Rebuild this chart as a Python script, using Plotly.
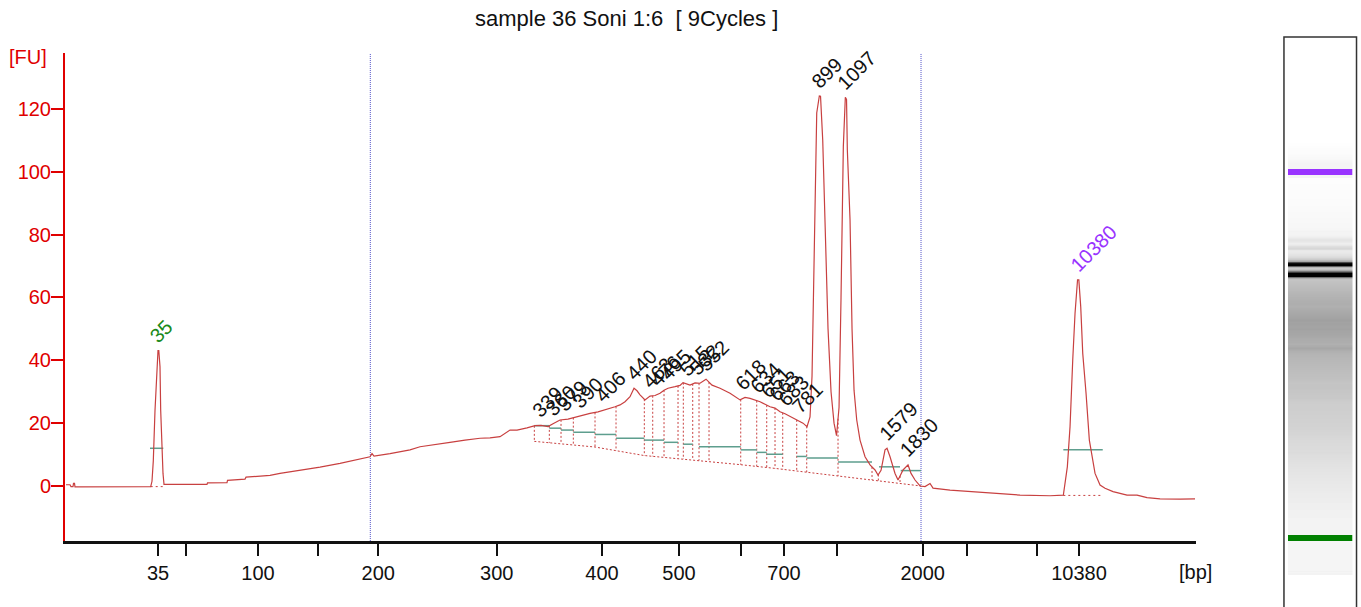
import numpy as np
import plotly.graph_objects as go

FONT = "Liberation Sans"
RED = "#e00000"
CURVE = "#c84040"
TEAL = "#5e9e8e"
PURPLE = "#9933ff"
GREEN = "#1a8a1a"

title_text = "sample 36 Soni 1:6\u00a0\u00a0[ 9Cycles ]"

# electropherogram: migration time [s] vs fluorescence [FU]
time_s = [3.3, 3.5, 3.55, 3.65, 3.675, 3.725, 3.75, 7.5,
          7.535, 7.6, 7.665, 7.75, 7.835, 7.9, 7.94, 8.0, 8.035, 8.085, 8.15, 8.2, 8.25,
          10.35, 10.375, 11.35, 11.375, 12.25, 12.3, 12.9, 13.5, 14.0, 15.0, 16.0, 17.0,
          17.75, 18.5, 18.6, 18.7, 19.5, 20.0, 20.5, 21.0, 21.5, 22.0, 22.5, 23.25, 24.0,
          24.5, 25.0, 25.5, 25.85, 26.35, 26.75, 27.05, 27.4, 27.65, 28.0, 28.4, 28.75,
          29.15, 29.5, 29.9, 30.25, 30.75, 31.0, 31.25, 31.5, 31.7, 31.85, 32.0, 32.25,
          32.5, 32.75, 33.0, 33.2, 33.4, 33.75, 34.0, 34.15, 34.5, 34.75, 35.0, 35.3,
          35.6, 36.0, 36.5, 37.0, 37.25, 37.5, 38.0, 38.25, 38.5, 38.75, 39.0, 39.25,
          39.5, 39.85, 40.15, 40.35, 40.5, 40.6, 40.7, 40.75, 40.835, 40.965, 41.025,
          41.135, 41.25, 41.4, 41.55, 41.7, 41.825, 41.95, 42.05, 42.1, 42.165, 42.265,
          42.325, 42.365, 42.5, 42.6, 42.7, 42.835, 43.0, 43.25, 43.5, 43.75, 43.9,
          44.05, 44.25, 44.35, 44.5, 44.75, 44.9, 45.15, 45.4, 45.55, 45.75, 46.0,
          46.25, 46.5, 46.65, 47.5, 48.5, 49.5, 51.0, 52.5, 53.1, 53.165, 53.365, 53.5,
          53.635, 53.75, 53.875, 53.94, 54.035, 54.135, 54.3, 54.465, 54.75, 55.0,
          55.25, 55.65, 56.35, 56.85, 57.35, 58.0, 59.0, 59.75]
fu = [0.4, 0.4, -0.2, -0.2, 0.8, 0.8, -0.3, -0.3,
      -0.2, 1.5, 8.0, 24.0, 38.0, 43.1, 43.1, 38.0, 24.0, 12.0, 4.0, 0.5, 0.5,
      0.5, 1.0, 1.1, 1.8, 2.2, 2.8, 3.0, 3.4, 4.0, 4.9, 6.0, 7.2,
      8.2, 9.3, 10.3, 9.5, 10.3, 10.8, 11.5, 12.5, 13.0, 13.6, 13.9, 14.6, 15.2,
      15.3, 15.7, 17.8, 17.8, 18.5, 19.2, 19.3, 18.9, 19.8, 21.0, 21.3, 21.9,
      22.4, 23.1, 23.6, 24.2, 25.2, 25.8, 26.8, 28.4, 31.1, 30.3, 29.0, 27.4,
      28.6, 28.8, 29.5, 30.5, 31.1, 31.6, 32.0, 32.9, 32.1, 32.8, 32.7, 34.0,
      32.1, 31.1, 29.5, 27.4, 28.2, 27.9, 26.8, 26.0, 25.2, 24.8, 23.6, 23.0,
      22.1, 21.0, 20.0, 18.9, 22.0, 35.0, 70.0, 85.0, 118.7, 124.1, 124.0,
      110.0, 84.7, 50.0, 30.0, 20.0, 16.0, 25.0, 60.0, 84.7, 108.0, 123.7,
      123.0, 107.0, 84.7, 50.0, 30.5, 21.0, 14.6, 9.3, 6.7, 5.1, 3.5,
      5.0, 11.5, 12.0, 9.3, 4.0, 1.9, 5.1, 6.7, 4.0, 1.9, 0.0,
      -0.2, 0.8, -0.7, -1.3, -1.8, -2.3, -2.9, -3.1, -3.1, -2.9, 6.1, 18.9,
      40.1, 55.0, 65.6, 65.6, 57.0, 42.2, 29.5, 14.6, 4.0, 0.3,
      -0.7, -1.8, -2.9, -2.9, -3.7, -4.1, -4.2, -4.1]

# ladder (bp) and its migration times -> x axis ticks
ladder_bp = [35, 50, 100, 150, 200, 300, 400, 500, 600, 700, 1000, 2000, 3000, 7000, 10380]
ladder_time = [7.9, 9.3, 12.9, 15.9, 18.915, 24.835, 30.1, 33.95, 37.05, 39.2,
               41.85, 46.135, 48.35, 51.85, 53.95]
ladder_label = ["35", "", "100", "", "200", "300", "400", "500", "", "700", "", "2000", "", "", "10380"]

fu_ticks = [0, 20, 40, 60, 80, 100, 120]

# region limits (blue dotted lines)
region_limits = [18.515, 46.05]

# smear sub-region boundaries
bound_time = [26.715, 27.465, 28.05, 28.665, 29.75, 30.8, 32.215, 32.635, 33.2, 33.9,
              34.165, 34.635, 34.95, 35.45, 37.035, 37.835, 38.335, 38.75, 39.135,
              39.835, 40.335, 41.9, 43.6, 43.915, 45.0, 46.05]
# smear baseline
base_time = [26.715, 29.75, 32.2, 35.0, 37.0, 38.75, 40.35, 41.9, 43.65, 45.0, 46.05]
base_fu = [14.2, 12.4, 9.7, 8.1, 6.8, 5.6, 4.4, 3.2, 1.9, 0.9, 0.0]

# peak width lines (start time, end time, FU)
width_t0 = [26.715, 27.465, 28.05, 28.665, 29.75, 30.8, 32.215, 32.635, 33.2, 34.165,
            34.95, 37.035, 37.835, 38.335, 39.835, 40.335, 41.9, 43.95, 45.035, 7.5, 53.165]
width_t1 = [27.465, 28.05, 28.665, 29.75, 30.8, 32.215, 32.635, 33.2, 33.9, 34.635,
            37.035, 37.835, 38.335, 39.135, 40.335, 41.9, 43.6, 45.0, 46.05, 8.165, 55.135]
width_fu = [19.2, 18.4, 17.8, 17.1, 16.4, 15.2, 14.6, 14.6, 13.9, 13.3,
            12.5, 11.5, 10.7, 10.1, 9.4, 8.9, 7.6, 6.1, 4.9, 12.0, 11.5]

# marker baselines
marker_base_t0 = [7.535, 53.165]
marker_base_t1 = [8.25, 55.1]
marker_base_fu = [-0.2, -3.0]

# peak labels
peak_text = ["339", "360", "379", "390", "406", "440", "463", "476", "495", "515", "532",
             "552", "618", "634", "651", "663", "683", "781", "899", "1097", "1579", "1830"]
peak_time = [27.0, 27.65, 28.25, 29.0, 30.15, 31.7, 32.5, 32.9, 33.4, 34.35, 34.85,
             35.3, 37.15, 37.9, 38.4, 38.85, 39.3, 40.0, 40.965, 42.265, 44.35, 45.4]

marker_text = ["35", "10380"]
marker_time = [7.9, 53.94]
marker_color = [GREEN, PURPLE]
marker_band_color = ["#008000", "#9933ff"]
marker_window = [(7.5, 8.3), (53.15, 55.1)]

t_arr = np.array(time_s)
fu_arr = np.array(fu)

fig = go.Figure()

# ---- gel lane ----
gel_t = np.arange(3.25, 59.8001, 0.05)
gel_fu = np.interp(gel_t, t_arr, fu_arr)
for lo, hi in marker_window:
    gel_fu[(gel_t >= lo) & (gel_t <= hi)] = 0.0
fig.add_trace(go.Heatmap(
    x=[0, 1], y=gel_t, z=np.column_stack([gel_fu, gel_fu]),
    xaxis="x2", yaxis="y2", zmin=-4, zmax=98, showscale=False, hoverinfo="skip",
    colorscale=[[0, "#ffffff"], [4 / 102, "#f4f4f4"], [1, "#000000"]]))
for mt, mc in zip(marker_time, marker_band_color):
    fig.add_trace(go.Scatter(x=[-0.5, 1.5], y=[mt, mt], mode="lines", xaxis="x2", yaxis="y2",
                             line=dict(color=mc, width=6), hoverinfo="skip", showlegend=False))

# ---- region limit lines ----
rx, ry = [], []
for rt in region_limits:
    rx += [rt, rt, None]
    ry += [-17.5, 137.8, None]
fig.add_trace(go.Scatter(x=rx, y=ry, mode="lines", line=dict(color="#5050c8", width=1, dash="1px,1px"),
                         hoverinfo="skip", showlegend=False))

# ---- smear baseline and boundaries ----
fig.add_trace(go.Scatter(x=base_time, y=base_fu, mode="lines",
                         line=dict(color=CURVE, width=1, dash="2px,2px"), hoverinfo="skip", showlegend=False))
bx, by = [], []
for bt in bound_time:
    bx += [bt, bt, None]
    by += [float(np.interp(bt, t_arr, fu_arr)), float(np.interp(bt, base_time, base_fu)), None]
fig.add_trace(go.Scatter(x=bx, y=by, mode="lines", line=dict(color=CURVE, width=1, dash="2px,2px"),
                         hoverinfo="skip", showlegend=False))
mx, my = [], []
for a, b, v in zip(marker_base_t0, marker_base_t1, marker_base_fu):
    mx += [a, b, None]
    my += [v, v, None]
fig.add_trace(go.Scatter(x=mx, y=my, mode="lines", line=dict(color=CURVE, width=1, dash="2px,3px"),
                         hoverinfo="skip", showlegend=False))

# ---- width lines ----
wx, wy = [], []
for a, b, v in zip(width_t0, width_t1, width_fu):
    wx += [a, b, None]
    wy += [v, v, None]
fig.add_trace(go.Scatter(x=wx, y=wy, mode="lines", line=dict(color=TEAL, width=1.5),
                         hoverinfo="skip", showlegend=False))

# ---- curve ----
fig.add_trace(go.Scatter(x=time_s, y=fu, mode="lines", line=dict(color=CURVE, width=1.2),
                         showlegend=False))

annotations = []
for txt, pt in zip(peak_text, peak_time):
    annotations.append(dict(x=pt, y=float(np.interp(pt, t_arr, fu_arr)), xref="x", yref="y",
                            text=txt, showarrow=False, textangle=-45, xanchor="left", yanchor="bottom",
                            xshift=-15, yshift=1, font=dict(family=FONT, size=20, color="#111111")))
for txt, pt, c in zip(marker_text, marker_time, marker_color):
    annotations.append(dict(x=pt, y=float(np.interp(pt, t_arr, fu_arr)), xref="x", yref="y",
                            text=txt, showarrow=False, textangle=-45, xanchor="left", yanchor="bottom",
                            xshift=-15, yshift=1, font=dict(family=FONT, size=20, color=c)))

annotations.append(dict(x=0.4346, y=1.035, xref="paper", yref="paper", text=title_text, showarrow=False,
                        xanchor="center", yanchor="middle", font=dict(family=FONT, size=22, color="#111111")))
annotations.append(dict(x=-0.029, y=0.963, xref="paper", yref="paper", text="[FU]", showarrow=False,
                        xanchor="center", yanchor="middle", font=dict(family=FONT, size=20, color=RED)))
annotations.append(dict(x=0.8753, y=0.0093, xref="paper", yref="paper", text="[bp]", showarrow=False,
                        xanchor="center", yanchor="middle", font=dict(family=FONT, size=20, color="#111111")))

shapes = [dict(type="rect", xref="paper", yref="paper", x0=0.9442, x1=1.0004, y0=-0.15, y1=1.0,
               line=dict(color="#333333", width=1.5), fillcolor="rgba(0,0,0,0)")]

fig.update_layout(
    width=1361, height=607,
    margin=dict(l=65, r=5, t=37, b=30),
    paper_bgcolor="white", plot_bgcolor="white",
    showlegend=False,
    annotations=annotations, shapes=shapes,
    xaxis=dict(domain=[0, 0.8761], range=[3.25, 59.8], tickmode="array", tickvals=ladder_time,
               ticktext=ladder_label, ticks="outside", ticklen=12, tickwidth=2, tickcolor="#111111",
               showline=True, linecolor="#111111", linewidth=3, showgrid=False, zeroline=False,
               tickfont=dict(family=FONT, size=20, color="#111111"), anchor="y"),
    yaxis=dict(domain=[0.0667, 0.9704], range=[-17.5, 137.8], tickmode="array", tickvals=fu_ticks,
               ticks="outside", ticklen=12, tickwidth=2, tickcolor=RED, showline=True, linecolor=RED,
               linewidth=2, showgrid=False, zeroline=False, ticklabelstandoff=-4,
               tickfont=dict(family=FONT, size=20, color=RED), anchor="x"),
    xaxis2=dict(domain=[0.9473, 0.9973], range=[-0.5, 1.5], visible=False, anchor="y2"),
    yaxis2=dict(domain=[0.0037, 0.8363], range=[3.25, 59.8], visible=False, anchor="x2"),
)

# remove the default page margin so the figure fills the window exactly
fig.write_html("out.html", config={"displayModeBar": False},
               post_script="document.body.style.margin='0';document.body.style.overflow='hidden';")
